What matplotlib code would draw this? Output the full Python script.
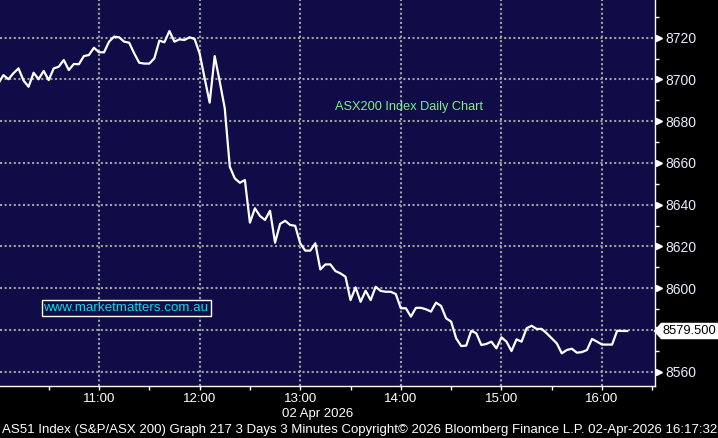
import matplotlib
matplotlib.use('Agg')
from matplotlib import pyplot as plt
import matplotlib.dates as mdates
import matplotlib.transforms as mtransforms
from matplotlib.path import Path
import pandas as pd

# ASX200 3-minute closes on 02 Apr 2026, starting 10:00
start_time = '2026-04-02 10:00'
prices = [
    8698.1, 8702.1, 8700.1, 8703.0, 8705.3, 8699.5, 8696.5, 8703.2, 8700.1, 8704.1,
    8699.7, 8705.3, 8706.1, 8709.3, 8704.5, 8707.4, 8707.3, 8711.2, 8711.7, 8715.2,
    8713.0, 8713.0, 8718.1, 8720.5, 8720.2, 8718.1, 8717.6, 8712.5, 8708.0, 8707.6,
    8707.6, 8710.1, 8718.6, 8717.8, 8723.2, 8718.1, 8719.2, 8718.9, 8720.2, 8719.4,
    8712.5, 8700.6, 8688.9, 8711.2, 8699.0, 8686.2, 8658.2, 8652.6, 8650.5, 8651.8,
    8631.4, 8638.3, 8634.6, 8632.7, 8637.1, 8621.8, 8630.8, 8632.3, 8630.3, 8629.9,
    8621.5, 8618.0, 8618.0, 8621.5, 8609.0, 8611.4, 8611.4, 8608.2, 8607.1, 8605.5,
    8594.3, 8600.4, 8593.5, 8598.8, 8594.3, 8600.7, 8598.7, 8598.3, 8598.3, 8597.2,
    8590.4, 8590.4, 8586.4, 8590.6, 8590.6, 8589.9, 8588.8, 8593.1, 8591.5, 8585.6,
    8584.0, 8576.0, 8572.3, 8572.5, 8579.6, 8578.4, 8572.8, 8573.3, 8574.4, 8571.2,
    8576.5, 8574.4, 8569.9, 8575.5, 8574.4, 8580.8, 8582.0, 8580.5, 8580.5, 8578.4,
    8576.0, 8573.6, 8568.8, 8570.4, 8571.0, 8569.1, 8569.4, 8570.4, 8575.7, 8574.4,
    8573.0, 8573.0, 8573.0, 8579.6, 8579.5, 8579.5,
]
last_price = 8579.5
y_ticks = [8560, 8580, 8600, 8620, 8640, 8660, 8680, 8700, 8720]
# 8580 label is hidden behind the last-price tag
y_labels = ['8560', '', '8600', '8620', '8640', '8660', '8680', '8700', '8720']

times = pd.date_range(start_time, periods=len(prices), freq='3min')
s = pd.Series(prices, index=times)


def tag_box(x0, y0, width, height, mutation_size):
    # box with a pointed left side, like Bloomberg's last price tag
    pad = 0.12 * mutation_size
    x0, y0 = x0 - pad, y0 - pad
    x1, y1 = x0 + width + 2 * pad, y0 + height + 2 * pad
    tip = (y1 - y0) * 0.45
    return Path([(x0, y0), (x1, y0), (x1, y1), (x0, y1),
                 (x0 - tip, (y0 + y1) / 2), (x0, y0)], closed=True)


navy = '#100c48'
fig = plt.figure(figsize=(7.18, 4.38), dpi=100, facecolor='black')
ax = fig.add_axes([0, 1 - 385.7 / 438, 654.7 / 718, 385.7 / 438])
ax.set_facecolor(navy)

ax.plot(s.index, s.values, color='white', lw=1.6, zorder=3)

t0 = pd.Timestamp(start_time)
ax.set_xlim(t0 + pd.Timedelta(seconds=58), t0 + pd.Timedelta(minutes=391.4))
ax.set_ylim(8553.3, 8738.06)

ax.xaxis.set_major_locator(mdates.HourLocator())
ax.xaxis.set_major_formatter(mdates.DateFormatter('%H:%M'))
ax.xaxis.set_minor_locator(mdates.MinuteLocator(byminute=[30]))
ax.set_yticks(y_ticks, y_labels)
ax.set_yticks([v + 10 for v in y_ticks], minor=True)
ax.yaxis.tick_right()

ax.grid(True, which='major', color='#a0a0a0', ls=(0, (1, 1.2)), lw=1.5)
for side in ['left', 'top']:
    ax.spines[side].set_visible(False)
for side in ['right', 'bottom']:
    ax.spines[side].set_color('white')
    ax.spines[side].set_linewidth(1)

lab_font = 'Liberation Sans'
ax.tick_params(axis='x', which='both', colors='white', length=3, width=1,
               labelsize=9.5, pad=2)
ax.tick_params(axis='y', which='major', colors='#e8ecff', length=0, pad=8,
               labelsize=10)
ax.tick_params(axis='y', which='minor', colors='white', length=3, width=1)
for lab in ax.get_xticklabels() + ax.get_yticklabels():
    lab.set_fontfamily(lab_font)

# small arrow heads at the major y ticks
tr = mtransforms.blended_transform_factory(ax.transAxes, ax.transData)
ax.plot([1.006] * len(y_ticks), y_ticks, ls='none', marker='>', ms=5,
        color='white', transform=tr, clip_on=False)

# last price tag
ax.text(1.0125, last_price, '8579.500', transform=tr, fontsize=9.3,
        family=lab_font, color='black', va='center', ha='left', zorder=5,
        bbox=dict(boxstyle=tag_box, fc='white', ec='white'))

ax.text(409 / 654.7, 1 - 107 / 385.7, 'ASX200 Index Daily Chart',
        transform=ax.transAxes, color='#7ff07f', fontsize=9.2, family=lab_font,
        ha='center', va='center')
ax.text(126 / 654.7, 1 - 308 / 385.7, 'www.marketmatters.com.au',
        transform=ax.transAxes, color='#00e0e8', fontsize=9.6, family=lab_font,
        ha='center', va='center',
        bbox=dict(boxstyle='square,pad=0.15', fc=navy, ec='white', lw=1))

fig.text(318 / 718, 1 - 413.5 / 438, '02 Apr 2026', color='white', fontsize=9.5,
         family=lab_font, ha='center', va='center')
fig.text(2 / 718, 1 - 429.5 / 438,
         'AS51 Index (S&P/ASX 200) Graph 217 3 Days 3 Minutes Copyright\u00a9 2026 '
         'Bloomberg Finance L.P. 02-Apr-2026 16:17:32',
         color='white', fontsize=9.5, family=lab_font, ha='left', va='center')

fig.savefig('out.png', dpi=100, facecolor='black')
